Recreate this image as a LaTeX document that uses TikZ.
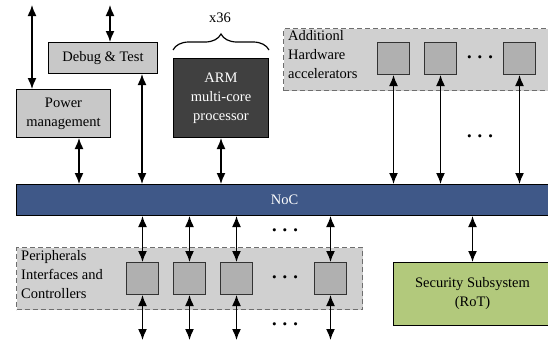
\documentclass[tikz,border=0pt]{standalone}
\usepackage{fontspec}
\setmainfont{Liberation Serif}
\usetikzlibrary{arrows.meta,decorations.pathreplacing,calc}
\definecolor{boxgray}{HTML}{C8C8C8}
\definecolor{sqgray}{HTML}{B0B0B0}
\definecolor{regiongray}{HTML}{D0D0D0}
\definecolor{dashgray}{HTML}{6E6E6E}
\definecolor{armdark}{HTML}{404040}
\definecolor{nocblue}{HTML}{3F5888}
\definecolor{secgreen}{HTML}{B2C97C}
\tikzset{
  txt/.style={font=\fontsize{14.5}{19}\selectfont},
  graybox/.style={draw=black, fill=boxgray, line width=1pt, txt, align=center, inner sep=0pt},
  sq/.style={draw=black!80, fill=sqgray, line width=1pt, minimum width=32pt, minimum height=32pt, inner sep=0pt},
  region/.style={draw=dashgray, dash pattern=on 5pt off 3pt, fill=regiongray, line width=1pt, inner sep=0pt},
  biarrow/.style={{Latex[length=11pt,width=9pt]}-{Latex[length=11pt,width=9pt]}, line width=1.5pt},
  dotsnode/.style={font=\fontsize{20}{20}\selectfont\boldmath, inner sep=0pt},
}
\begin{document}
\begin{tikzpicture}[x=1pt,y=-1pt]
\clip (0,0) rectangle (548,343);
\useasboundingbox (0,0) rectangle (548,343);
% regions
\node[region, minimum width=280pt, minimum height=62pt, anchor=north west] (acc) at (283,28) {};
\node[region, minimum width=346pt, minimum height=62pt, anchor=north west] (per) at (16,247) {};
\node[txt, align=left, anchor=north west, inner sep=0pt] (acct) at (288,30) {Additionl\\Hardware\\accelerators};
\node[txt, align=left, anchor=north west, inner sep=0pt] (pert) at (21,250) {Peripherals\\Interfaces and\\Controllers};
% top boxes
\node[graybox, minimum width=94pt, minimum height=48pt, anchor=north west] (pm) at (16,89) {Power\\management};
\node[graybox, minimum width=109pt, minimum height=31pt, anchor=north west] (dbg) at (48,42) {Debug \& Test};
\node[draw=black, fill=armdark, text=white, txt, align=center, line width=1pt, minimum width=95pt, minimum height=79pt, anchor=north west, inner sep=0pt] (arm) at (173,58) {ARM\\multi-core\\processor};
\coordinate (bl) at ($(arm.north west)+(0,-8)$);
\coordinate (br) at ($(arm.north east)+(0,-8)$);
\draw[line width=1.2pt, decorate, decoration={brace, amplitude=16pt}] (bl) -- (br);
\node[txt] (x36) at (220,18) {x36};
% NoC
\node[draw=black, fill=nocblue, text=white, txt, line width=1pt, minimum width=536pt, minimum height=31pt, anchor=north west, inner sep=0pt] (noc) at (16,184) {NoC};
% accelerator squares
\node[sq, anchor=north west] (a1) at (377,42) {};
\node[sq, anchor=north west] (a2) at (424,42) {};
\node[sq, anchor=north west] (a3) at (503,42) {};
\node[dotsnode] (ad1) at (480,58) {$\cdots$};
\node[dotsnode] (ad2) at (480,137) {$\cdots$};
% peripheral squares
\node[sq, anchor=north west] (p1) at (126,262) {};
\node[sq, anchor=north west] (p2) at (173,262) {};
\node[sq, anchor=north west] (p3) at (220,262) {};
\node[sq, anchor=north west] (p4) at (314,262) {};
\node[dotsnode] (pd1) at (285,231) {$\cdots$};
\node[dotsnode] (pd2) at (285,278) {$\cdots$};
\node[dotsnode] (pd3) at (285,325) {$\cdots$};
% security
\node[draw=black, fill=secgreen, txt, align=center, line width=1pt, minimum width=158pt, minimum height=63pt, anchor=north west, inner sep=0pt] (sec) at (393,262) {Security Subsystem\\(RoT)};
% free-end coordinates
\coordinate (t1) at (32,5);
\coordinate (t2) at (110,5);
\coordinate (xd) at (142,0);
\coordinate (xp) at (79,0);
\coordinate (bot) at (0,340);
% arrows
\draw[biarrow] (t1) -- (t1 |- pm.north);
\draw[biarrow] (t2) -- (t2 |- dbg.north);
\draw[biarrow] (pm.south -| xp) -- (noc.north -| xp);
\draw[biarrow] (dbg.south -| xd) -- (noc.north -| xd);
\draw[biarrow] (arm.south) -- (noc.north -| arm.south);
\foreach \n in {a1,a2,a3} {
  \draw[biarrow] (\n.south) -- (noc.north -| \n.south);
}
\foreach \n in {p1,p2,p3,p4} {
  \draw[biarrow] (noc.south -| \n.north) -- (\n.north);
  \draw[biarrow] (\n.south) -- (bot -| \n.south);
}
\draw[biarrow] (noc.south -| sec.north) -- (sec.north);
\end{tikzpicture}
\end{document}
